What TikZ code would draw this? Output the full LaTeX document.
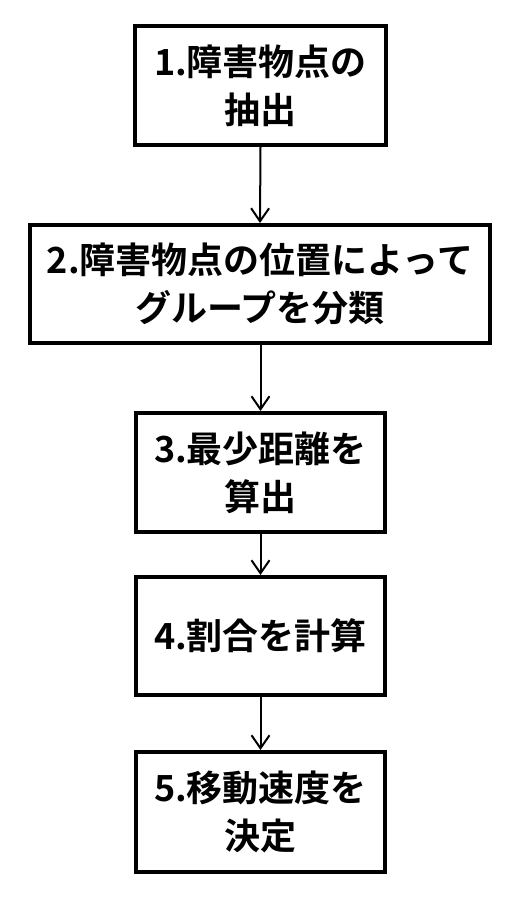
\documentclass[tikz,border=0pt]{standalone}
\usepackage{fontspec}
\newfontfamily\jp{Noto Sans CJK JP}[BoldFont=* Bold]
\usetikzlibrary{arrows.meta}
\begin{document}
\begin{tikzpicture}[x=1pt,y=-1pt,
  stepbox/.style={draw=black, line width=4pt, fill=white, align=center,
    inner sep=0pt, font={\jp\bfseries\fontsize{36}{48}\selectfont}},
  flow/.style={line width=2pt, -{Straight Barb[length=13pt,width=18pt,line width=2pt]}}]
\useasboundingbox[fill=white] (0,0) rectangle (510,897);
\node[stepbox, minimum width=251pt, minimum height=119pt] (s1) at (260.5,85.5) {1.障害物点の\\抽出};
\node[stepbox, minimum width=460pt, minimum height=118pt] (s2) at (260,284) {2.障害物点の位置によって\\グループを分類};
\node[stepbox, minimum width=249pt, minimum height=119pt] (s3) at (260.5,472.5) {3.最少距離を\\算出};
\node[stepbox, minimum width=249pt, minimum height=118pt] (s4) at (260.5,636) {4.割合を計算};
\node[stepbox, minimum width=249pt, minimum height=120pt] (s5) at (260.5,812) {5.移動速度を\\決定};
\draw[flow] (s1.south) -- (s2.north);
\draw[flow] (s2.south -| s3.north) -- (s3.north);
\draw[flow] (s3.south) -- (s4.north);
\draw[flow] (s4.south) -- (s5.north);
\end{tikzpicture}
\end{document}
